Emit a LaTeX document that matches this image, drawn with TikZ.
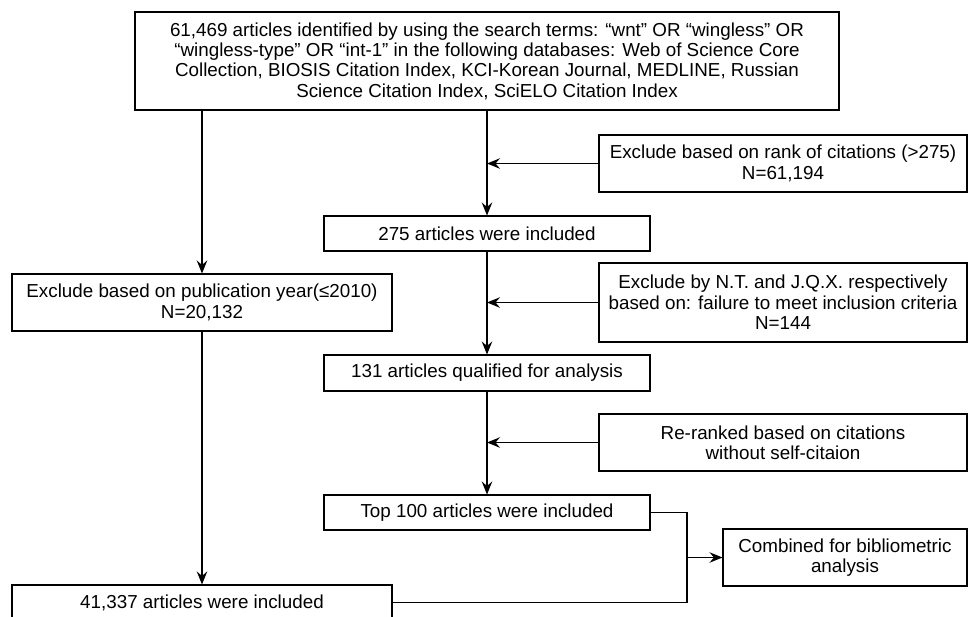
\documentclass[tikz,border=0pt]{standalone}
\usepackage{fontspec}
\setmainfont{Liberation Sans}
\usetikzlibrary{arrows.meta}

\begin{document}
\begin{tikzpicture}[
line width=0.6pt,
>={Stealth[length=2.6mm,width=2.1mm,inset=0.9mm]},
every node/.style={
draw,
align=center,
inner sep=0pt,
font=\fontsize{10.7}{11.6}\selectfont
}
]

\useasboundingbox (0,0) rectangle (19.42,-12.32);

\node[minimum width=14.08cm, minimum height=1.96cm] (T) at (9.74,-1.22) {61,469 articles identified by using the search terms: “wnt” OR “wingless” OR\\“wingless-type” OR “int-1” in the following databases: Web of Science Core\\Collection, BIOSIS Citation Index, KCI-Korean Journal, MEDLINE, Russian\\Science Citation Index, SciELO Citation Index};

\node[minimum width=7.36cm, minimum height=1.14cm] (R) at (15.66,-3.27) {Exclude based on rank of citations (>275)\\N=61,194};
\node[minimum width=6.52cm, minimum height=0.7cm] (A) at (9.74,-4.67) {275 articles were included};

\node[minimum width=7.6cm, minimum height=1.14cm] (P) at (4.04,-6.05) {Exclude based on publication year(≤2010)\\N=20,132};
\node[minimum width=7.36cm, minimum height=1.58cm] (X) at (15.66,-6.05) {Exclude by N.T. and J.Q.X. respectively\\based on: failure to meet inclusion criteria\\N=144};

\node[minimum width=6.52cm, minimum height=0.72cm] (Q) at (9.74,-7.46) {131 articles qualified for analysis};
\node[minimum width=7.36cm, minimum height=1.14cm] (RR) at (15.66,-8.85) {Re-ranked based on citations\\without self-citaion};

\node[minimum width=6.52cm, minimum height=0.7cm] (H) at (9.74,-10.25) {Top 100 articles were included};
\node[minimum width=4.88cm, minimum height=1.14cm] (C) at (16.9,-11.15) {Combined for bibliometric\\analysis};
\node[minimum width=7.6cm, minimum height=0.7cm] (B) at (4.04,-12.05) {41,337 articles were included};

\coordinate (J) at (13.74,-11.15);

\draw[->] (T.south -| P) -- (P);
\draw[->] (P) -- (B);

\draw[->] (T) -- (A);
\draw[->] (R) -- (R -| T);
\draw[->] (A) -- (Q);
\draw[->] (X) -- (X -| T);
\draw[->] (Q) -- (H);
\draw[->] (RR) -- (RR -| T);

\draw (H.east) -| (J) |- (B.east);
\draw[->] (J) -- (C);

\end{tikzpicture}
\end{document}
